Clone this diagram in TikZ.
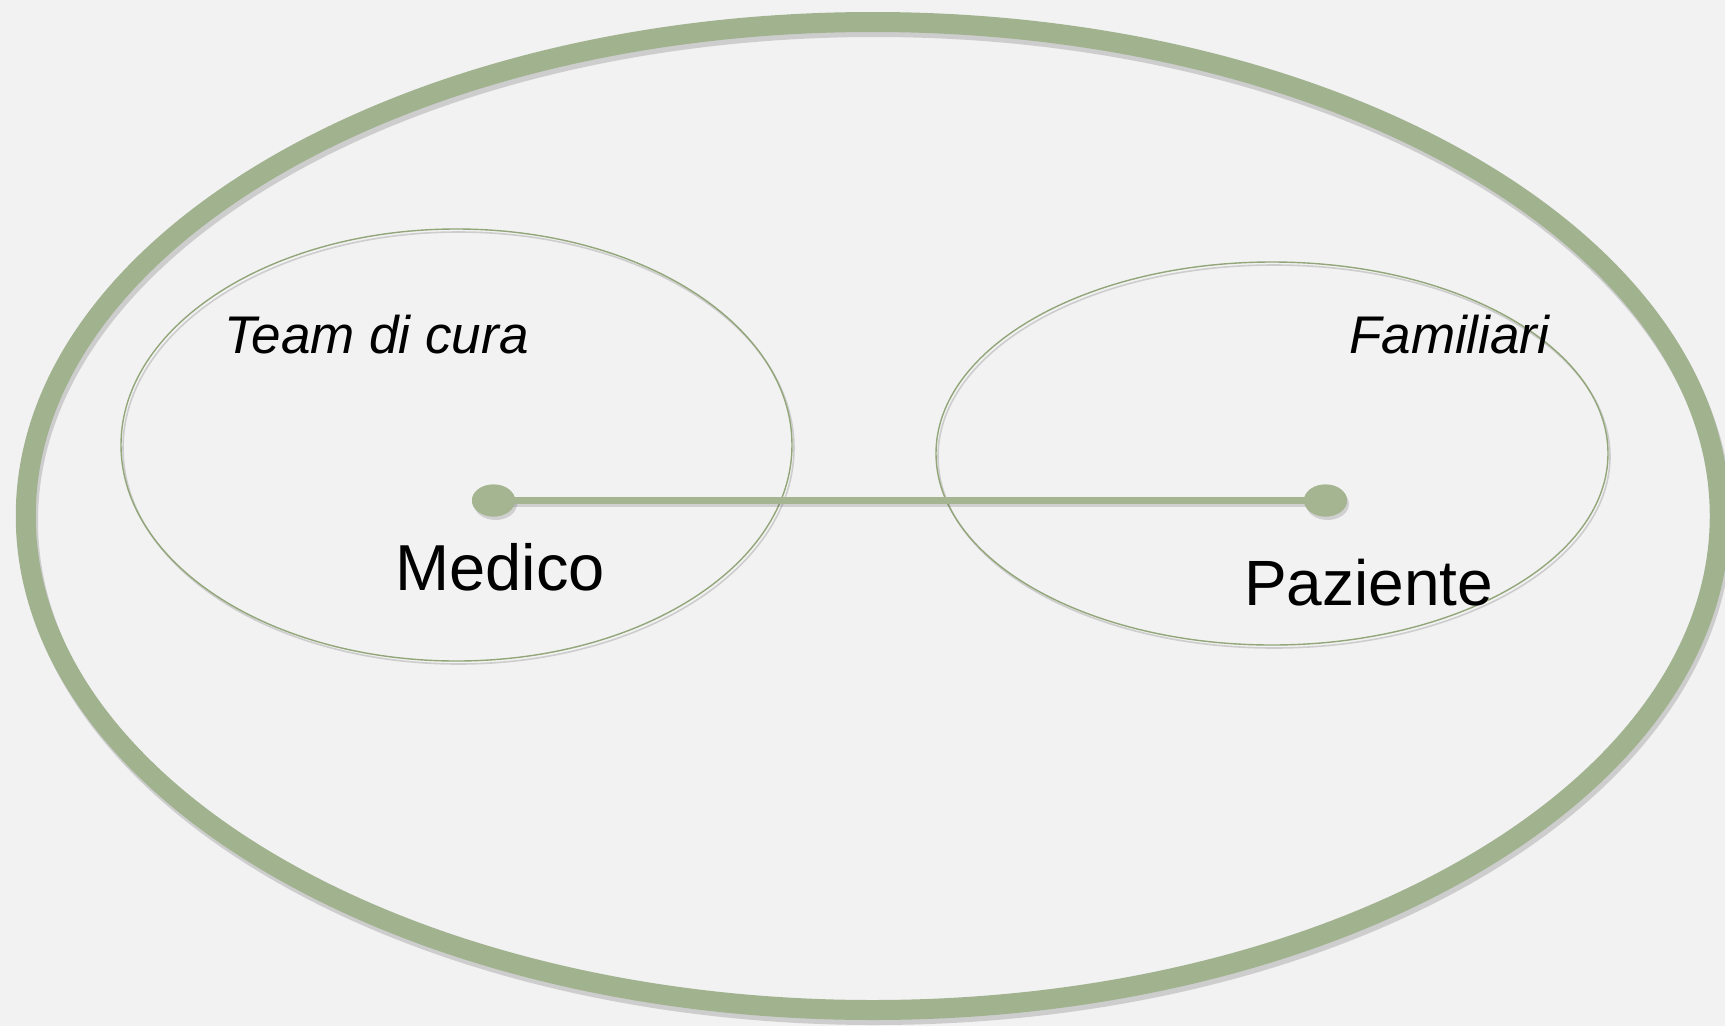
\documentclass[tikz,border=0pt]{standalone}
\usepackage{fontspec}
\setmainfont{Liberation Sans}
\usetikzlibrary{shapes.geometric}
\definecolor{bg}{RGB}{242,242,242}
\definecolor{ring}{RGB}{161,178,142}
\definecolor{thin}{RGB}{147,166,122}
\definecolor{dotc}{RGB}{165,181,145}
\tikzset{
  oval/.style={ellipse, inner sep=0pt, outer sep=0pt},
  shadowed/.style={draw=black!70, opacity=0.22},
  bigring/.style={oval, draw=ring, line width=20pt},
  thinring/.style={oval, draw=thin, line width=1.4pt},
  pin/.style={oval, fill=dotc, minimum width=43pt, minimum height=32pt},
  link/.style={draw=dotc, line width=7pt},
  lbl/.style={anchor=base west, inner sep=0pt, text=black},
}
\begin{document}
\begin{tikzpicture}[x=1pt,y=-1pt]
\fill[bg] (0,0) rectangle (1725,1026);
\useasboundingbox (0,0) rectangle (1725,1026);
% shadows
\node[oval, shadowed, line width=20pt, minimum width=1694pt, minimum height=988pt] at (875,521) {};
\node[oval, shadowed, line width=1.6pt, minimum width=671pt, minimum height=432pt] at (458.5,448) {};
\node[oval, shadowed, line width=1.6pt, minimum width=672pt, minimum height=383pt] at (1274,456.5) {};
% main shapes
\node[bigring, minimum width=1694pt, minimum height=988pt] (outer) at (872.75,516) {};
\node[thinring, minimum width=671pt, minimum height=432pt] (team) at (456.5,445) {};
\node[thinring, minimum width=672pt, minimum height=383pt] (fam) at (1272,453.5) {};
% connector shadow
\draw[draw=black!70, opacity=0.2, line width=7pt] (495,503.5) -- (1327,503.5);
\fill[black!70, opacity=0.2] (495.5,504) ellipse (21.5pt and 16pt);
\fill[black!70, opacity=0.2] (1327.5,504) ellipse (21.5pt and 16pt);
\node[pin] (medico) at (493.5,500.5) {};
\node[pin] (paziente) at (1325.5,500.5) {};
\draw[link] (medico.center) -- (paziente.center);
\node[pin] at (medico.center) {};
\node[pin] at (paziente.center) {};
% labels
\node[lbl, font=\fontsize{53}{60}\selectfont\itshape] (tlabel) at (224,353) {Team di cura};
\node[lbl, font=\fontsize{53}{60}\selectfont\itshape] (flabel) at (1349,353) {Familiari};
\node[lbl, font=\fontsize{65}{72}\selectfont] (mlabel) at (395,590) {Medico};
\node[lbl, font=\fontsize{64}{72}\selectfont] (plabel) at (1244,605) {Paziente};
\end{tikzpicture}
\end{document}
